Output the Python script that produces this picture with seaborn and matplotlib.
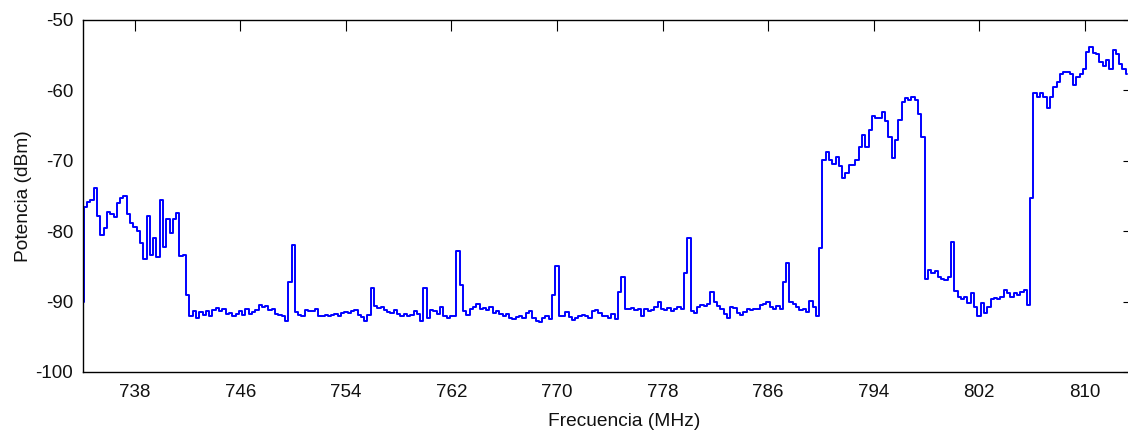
import numpy as np
import pandas as pd
import matplotlib
matplotlib.use("Agg")
import matplotlib.pyplot as plt
import seaborn as sns

# Spectrum, one value every 0.25 MHz starting at 734 MHz
FREQ_START = 734.0
FREQ_STEP = 0.25

# 734.00 - 741.75 MHz (occupied band at the left edge)
band_734_dbm = [
    -90.0, -76.5, -75.8, -75.5, -73.8, -77.8, -80.5, -79.5,
    -77.3, -77.6, -78.0, -76.0, -75.3, -75.0, -77.6, -78.8,
    -79.4, -80.0, -81.7, -83.9, -77.8, -83.4, -81.0, -83.7,
    -75.5, -82.2, -78.3, -80.3, -78.3, -77.4, -83.5, -83.4,
]

# 742.00 - 789.75 MHz (noise floor with narrow spurs)
floor_dbm = [
    -89.0, -92.0, -91.4, -92.3, -91.5, -91.9, -91.3, -92.1,
    -91.2, -90.9, -91.4, -91.0, -91.8, -91.6, -92.0, -91.7,
    -91.4, -91.9, -91.1, -91.7, -91.5, -91.2, -90.5, -90.8,
    -90.6, -91.2, -91.1, -91.8, -91.9, -92.0, -92.7, -87.2,
    -82.0, -91.5, -91.9, -92.0, -91.2, -91.3, -91.4, -91.0,
    -92.0, -92.1, -91.9, -92.0, -91.9, -91.8, -92.0, -91.6,
    -91.5, -91.6, -91.3, -91.2, -91.9, -92.2, -92.7, -91.9,
    -88.1, -90.6, -90.9, -90.8, -91.2, -91.5, -91.6, -91.2,
    -91.8, -92.0, -91.7, -92.1, -91.9, -91.3, -91.8, -92.8,
    -88.0, -92.3, -91.2, -91.4, -91.8, -90.8, -92.0, -92.3,
    -92.0, -92.1, -82.8, -87.6, -91.3, -91.9, -91.0, -90.7,
    -90.4, -91.1, -90.9, -91.2, -90.8, -91.6, -91.3, -91.8,
    -92.0, -91.7, -92.3, -92.5, -92.2, -92.0, -92.4, -91.6,
    -91.3, -92.4, -92.7, -92.9, -92.3, -92.1, -92.5, -89.0,
    -85.0, -92.0, -92.1, -91.5, -92.2, -92.6, -92.3, -92.0,
    -91.9, -92.1, -92.4, -91.4, -91.2, -91.6, -92.0, -92.0,
    -92.4, -91.8, -92.5, -88.6, -86.5, -91.0, -91.1, -90.9,
    -91.2, -91.0, -92.0, -91.0, -91.3, -91.2, -90.8, -90.1,
    -91.0, -91.2, -90.9, -91.4, -91.1, -90.8, -91.0, -85.9,
    -81.0, -91.3, -91.6, -90.7, -90.5, -90.6, -90.3, -88.6,
    -90.0, -90.6, -91.1, -91.8, -92.3, -90.8, -90.9, -91.6,
    -91.9, -91.5, -91.0, -91.2, -91.0, -91.1, -90.5, -90.4,
    -90.0, -90.7, -91.0, -90.6, -91.0, -87.2, -84.5, -90.0,
    -90.3, -90.7, -91.2, -91.0, -91.5, -89.9, -90.8, -92.1,
]

# 790.00 - 797.75 MHz
band_790_dbm = [
    -82.4, -69.9, -68.7, -69.9, -70.4, -69.4, -70.8, -72.4,
    -71.8, -70.6, -70.6, -69.9, -68.0, -66.3, -68.0, -65.6,
    -63.7, -63.9, -63.9, -63.0, -64.4, -66.6, -69.6, -67.0,
    -64.2, -61.6, -61.1, -61.3, -60.9, -61.3, -63.3, -66.6,
]

# 798.00 - 805.75 MHz
gap_dbm = [
    -86.8, -85.5, -86.0, -85.7, -86.5, -86.8, -87.0, -86.5,
    -81.5, -88.5, -89.3, -89.7, -89.3, -90.2, -88.8, -90.7,
    -92.1, -90.2, -91.6, -90.7, -89.7, -89.5, -89.7, -89.3,
    -88.4, -88.8, -89.3, -88.8, -89.0, -88.6, -88.3, -90.5,
]

# 806.00 - 813.25 MHz
band_806_dbm = [
    -75.3, -60.4, -60.9, -60.4, -60.9, -62.5, -60.9, -59.5,
    -58.8, -57.6, -57.4, -57.4, -57.6, -59.2, -58.1, -57.6,
    -56.9, -54.5, -53.8, -54.7, -54.9, -55.9, -56.6, -55.7,
    -56.9, -54.3, -54.9, -56.2, -56.9, -57.6,
]

x_ticks = [738, 746, 754, 762, 770, 778, 786, 794, 802, 810]
y_ticks = [-100, -90, -80, -70, -60, -50]

# Build one table for seaborn
power = band_734_dbm + floor_dbm + band_790_dbm + gap_dbm + band_806_dbm
spectrum = pd.DataFrame({
    "freq": FREQ_START + FREQ_STEP * np.arange(len(power)),
    "power": power,
})

sns.set_style("white")
plt.rcParams["font.family"] = ["Liberation Sans", "DejaVu Sans"]
plt.rcParams["axes.unicode_minus"] = False  # plain hyphen like the original
plt.rcParams["xtick.direction"] = "in"
plt.rcParams["ytick.direction"] = "in"

fig = plt.figure(figsize=(11.28, 4.34), dpi=100)
# the original screenshot cuts the right edge of the axes off
ax = fig.add_axes([83 / 1128, 62 / 434, 1051 / 1128, 352 / 434])

sns.lineplot(data=spectrum, x="freq", y="power", ax=ax, color="#0000FF",
             linewidth=1.4, estimator=None, drawstyle="steps-mid")

ax.set_xlim(734.06, 813.75)
ax.set_ylim(-100, -50)
ax.set_xticks(x_ticks)
ax.set_yticks(y_ticks)
ax.tick_params(axis="both", which="both", labelsize=13.5, length=8, width=0.8,
               top=True, right=True, color="black", labelcolor="#111111")
ax.tick_params(axis="x", pad=8.5)
ax.tick_params(axis="y", pad=7)
for side in ax.spines.values():
    side.set_color("black")
    side.set_linewidth(1.0)

ax.set_xlabel("Frecuencia (MHz)", fontsize=13.8, color="#111111")
ax.set_ylabel("Potencia (dBm)", fontsize=13.8, color="#111111")
ax.xaxis.set_label_coords(0.515, -0.117)
ax.yaxis.set_label_coords(-0.049, 0.5)

fig.savefig("out.png", dpi=100, facecolor="white")
